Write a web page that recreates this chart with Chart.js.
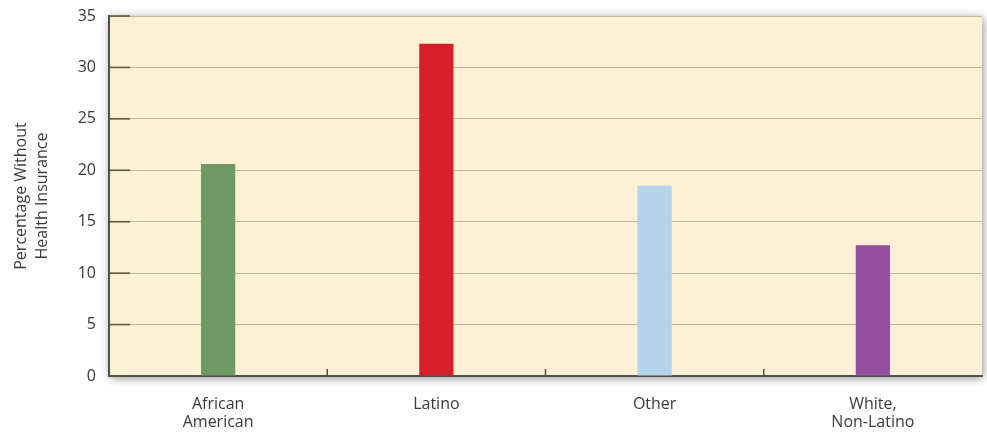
<!DOCTYPE html>
<html>
<head>
<meta charset="utf-8">
<script src="https://cdn.jsdelivr.net/npm/chart.js@4/dist/chart.umd.min.js"></script>
<style>
  html, body { margin: 0; padding: 0; background: #fff; }
  #wrap { width: 987px; height: 435px; }
</style>
</head>
<body>
<div id="wrap"><canvas id="chart" width="987" height="435"></canvas></div>
<script>
const categories = [["African", "American"], "Latino", "Other", ["White,", "Non-Latino"]];
const uninsured = [20.6, 32.3, 18.5, 12.7];
const barColors = ['#6f9a63', '#d5202a', '#b3d3ea', '#944f9f'];
const yTicks = [0, 5, 10, 15, 20, 25, 30, 35];

// plot background with a soft shadow, plus the short inner tick marks
const plotDecor = {
    id: 'plotDecor',
    beforeDraw(chart) {
        const { ctx, chartArea: a } = chart;
        ctx.save();
        ctx.shadowColor = 'rgba(0,0,0,0.45)';
        ctx.shadowBlur = 9;
        ctx.shadowOffsetX = 1;
        ctx.shadowOffsetY = 2;
        ctx.fillStyle = '#fdf0d5';
        ctx.fillRect(a.left, a.top, a.right - a.left, a.bottom - a.top);
        ctx.restore();
    },
    afterDatasetsDraw(chart) {
        const { ctx, chartArea: a, scales } = chart;
        ctx.save();
        ctx.strokeStyle = '#5a4e3c';
        ctx.lineWidth = 1.5;
        yTicks.forEach(v => {
            const y = scales.y.getPixelForValue(v);
            ctx.beginPath();
            ctx.moveTo(a.left, y);
            ctx.lineTo(a.left + 21, y);
            ctx.stroke();
        });
        for (let i = 1; i < categories.length; i++) {
            const x = (scales.x.getPixelForValue(i - 1) + scales.x.getPixelForValue(i)) / 2;
            ctx.beginPath();
            ctx.moveTo(x, a.bottom);
            ctx.lineTo(x, a.bottom - 7);
            ctx.stroke();
        }
        ctx.restore();
    }
};

new Chart(document.getElementById('chart'), {
    type: 'bar',
    data: {
        labels: categories,
        datasets: [{
            data: uninsured,
            backgroundColor: barColors,
            borderWidth: 0,
            categoryPercentage: 1,
            barPercentage: 0.157
        }]
    },
    options: {
        responsive: false,
        animation: false,
        layout: { padding: { top: 16, right: 5, left: 0, bottom: 0 } },
        plugins: {
            legend: { display: false },
            tooltip: { enabled: false }
        },
        scales: {
            x: {
                grid: { display: false },
                border: { color: '#4f4f4f', width: 2 },
                ticks: {
                    color: '#3a3a3a',
                    font: { family: 'Open Sans', size: 16, lineHeight: 1.15 },
                    padding: 11,
                    maxRotation: 0
                },
                afterFit(scale) {
                    scale.height = 59;
                    scale.paddingLeft = 0;
                    scale.paddingRight = 0;
                }
            },
            y: {
                min: 0,
                max: 35,
                ticks: {
                    stepSize: 5,
                    color: '#3a3a3a',
                    font: { family: 'Open Sans', size: 16 },
                    padding: 13
                },
                grid: {
                    color: 'rgba(175,160,135,0.75)',
                    lineWidth: 1,
                    drawTicks: false
                },
                border: { color: '#4f4f4f', width: 2 },
                title: {
                    display: true,
                    text: ['Percentage Without', 'Health Insurance'],
                    color: '#3a3a3a',
                    font: { family: 'Open Sans', size: 16, lineHeight: 1.3 },
                    padding: { top: 11, bottom: 0 }
                },
                afterFit(scale) {
                    scale.width = 109;
                    scale.paddingTop = 0;
                    scale.paddingBottom = 0;
                }
            }
        }
    },
    plugins: [plotDecor]
});
</script>
</body>
</html>
